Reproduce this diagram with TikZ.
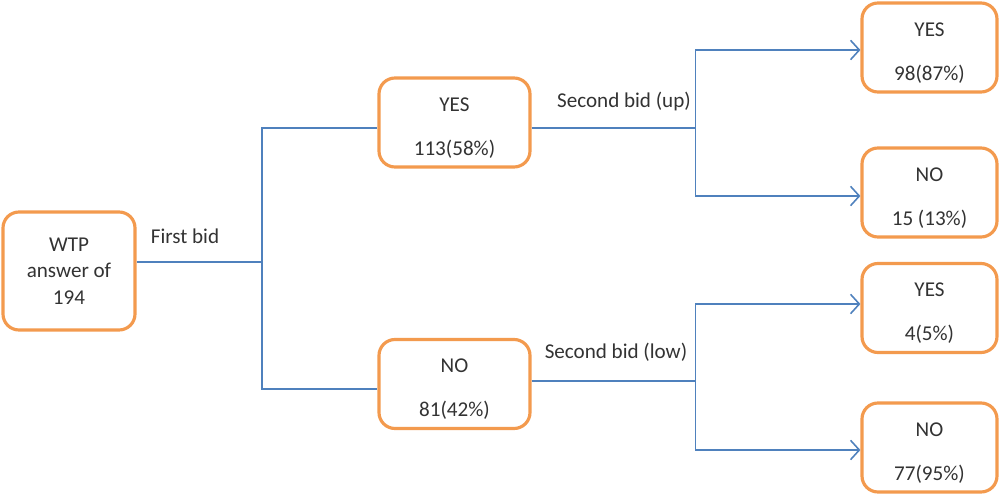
\documentclass[tikz,border=0pt]{standalone}
\usepackage{fontspec}
\setmainfont{Carlito}
\usetikzlibrary{arrows.meta}
\definecolor{boxorange}{HTML}{F39A4E}
\definecolor{lineblue}{HTML}{4F81BD}
\definecolor{txt}{HTML}{333333}
\newcommand{\twolines}[2]{\raisebox{-0.22cm}[0pt][0pt]{\begin{tabular}{@{}c@{}}#1\\[10.5pt]#2\end{tabular}}}
\tikzset{
  bx/.style={draw=boxorange, line width=1.8pt, rounded corners=0.32cm, fill=white,
    minimum width=#1, align=center, text=txt, font=\fontsize{12}{14.5}\selectfont, inner sep=0pt},
  ln/.style={draw=lineblue, line width=0.9pt},
  arr/.style={ln, -{Straight Barb[length=5pt, width=11pt, line width=0.9pt]}},
  lbl/.style={text=txt, font=\fontsize{12}{14.5}\selectfont, inner sep=0pt}
}
\begin{document}
\begin{tikzpicture}
\useasboundingbox (0,0) rectangle (20,9.9);
% boxes
\node[bx=2.64cm, minimum height=2.36cm] (wtp) at (1.38,4.48) {WTP\\[0.5pt]answer of\\[0.5pt]194};
\node[bx=3.02cm, minimum height=1.78cm] (my) at (9.09,7.45) {\twolines{YES}{113(58\%)}};
\node[bx=3.02cm, minimum height=1.78cm] (mn) at (9.09,2.22) {\twolines{NO}{81(42\%)}};
\node[bx=2.70cm, minimum height=1.78cm] (ry1) at (18.59,8.95) {\twolines{YES}{98(87\%)}};
\node[bx=2.70cm, minimum height=1.78cm] (rn1) at (18.59,6.05) {\twolines{NO}{15 (13\%)}};
\node[bx=2.70cm, minimum height=1.78cm] (ry2) at (18.59,3.74) {\twolines{YES}{4(5\%)}};
\node[bx=2.70cm, minimum height=1.78cm] (rn2) at (18.59,0.95) {\twolines{NO}{77(95\%)}};
% junction coordinates
\coordinate (j1) at (5.24,4.66);
\coordinate (j2) at (13.91,7.34);
\coordinate (j3) at (13.91,2.28);
% connectors
\draw[ln] (wtp.east |- j1) -- (j1);
\draw[ln] (j1) |- (my.west |- 0,7.34);
\draw[ln] (j1) |- (mn.west |- 0,2.12);
\draw[ln] (my.east |- j2) -- (j2);
\draw[arr] (j2) |- (ry1.west |- 0,8.90);
\draw[arr] (j2) |- (rn1.west |- 0,5.98);
\draw[ln] (mn.east |- j3) -- (j3);
\draw[arr] (j3) |- (ry2.west |- 0,3.82);
\draw[arr] (j3) |- (rn2.west |- 0,0.90);
% labels
\node[lbl] (l1) at (3.70,5.18) {First bid};
\node[lbl] (l2) at (12.48,7.88) {Second bid (up)};
\node[lbl] (l3) at (12.32,2.86) {Second bid (low)};
\end{tikzpicture}
\end{document}
